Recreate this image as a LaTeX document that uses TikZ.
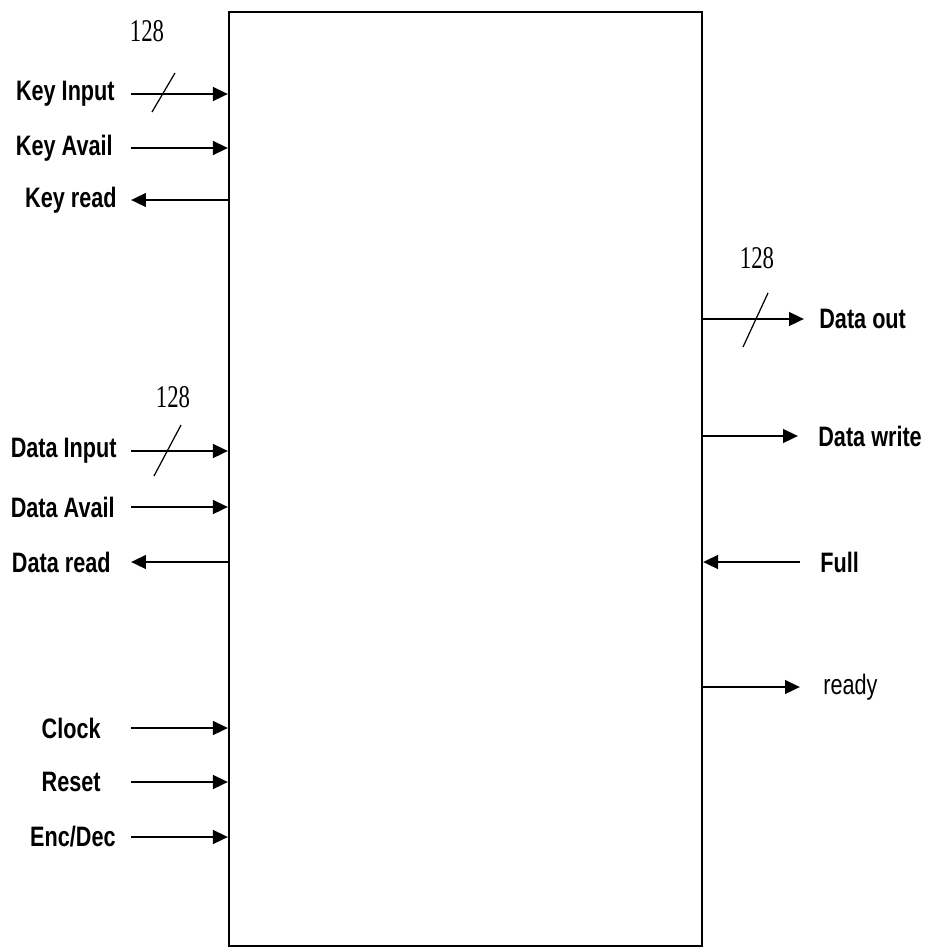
\documentclass[tikz,border=0pt]{standalone}
\usepackage{fontspec}
\setmainfont{Liberation Sans}
\newfontfamily\sigfont[FakeStretch=0.77]{Liberation Sans}
\newfontfamily\busfont[FakeStretch=0.72]{Liberation Serif}
\usetikzlibrary{arrows.meta}

\tikzset{
  sig/.style={font=\sigfont\bfseries\fontsize{16}{18}\selectfont, inner sep=0pt},
  sigl/.style={font=\sigfont\fontsize{16}{18}\selectfont, inner sep=0pt},
  width/.style={font=\busfont\fontsize{18}{20}\selectfont, inner sep=0pt},
  wire/.style={line width=1.6pt, -{Triangle[length=3mm,width=2.7mm]}},
  slash/.style={line width=0.7pt},
  core/.style={draw, line width=1.2pt, minimum width=9.46cm, minimum height=18.68cm, inner sep=0pt}
}

\begin{document}
\begin{tikzpicture}[x=0.02cm, y=-0.02cm]
   \useasboundingbox (0,0) rectangle (928,951);

   % the block
   \node[core] (core) at (465.5,479) {};

   % left side inputs / outputs
   \node[sig, anchor=east] (keyin)    at (115,94)  {Key Input};
   \node[sig, anchor=east] (keyav)    at (113,148) {Key Avail};
   \node[sig, anchor=east] (keyrd)    at (117,200) {Key read};
   \node[sig, anchor=east] (datain)   at (117,451) {Data Input};
   \node[sig, anchor=east] (dataav)   at (115,507) {Data Avail};
   \node[sig, anchor=east] (datard)   at (111,562) {Data read};
   \node[sig, anchor=east] (clock)    at (101,728) {Clock};
   \node[sig, anchor=east] (reset)    at (101,782) {Reset};
   \node[sig, anchor=east] (encdec)   at (116,837) {Enc/Dec};

   \coordinate (keyin-s)  at (131,94);
   \coordinate (keyav-s)  at (131,148);
   \coordinate (keyrd-s)  at (131,200);
   \coordinate (datain-s) at (131,451);
   \coordinate (dataav-s) at (131,507);
   \coordinate (datard-s) at (131,562);
   \coordinate (clock-s)  at (131,728);
   \coordinate (reset-s)  at (131,782);
   \coordinate (encdec-s) at (131,837);

   \draw[wire] (keyin-s) -- (keyin-s -| core.west);
   \draw[wire] (keyav-s) -- (keyav-s -| core.west);
   \draw[wire] (keyrd-s -| core.west) -- (keyrd-s);
   \draw[wire] (datain-s) -- (datain-s -| core.west);
   \draw[wire] (dataav-s) -- (dataav-s -| core.west);
   \draw[wire] (datard-s -| core.west) -- (datard-s);
   \draw[wire] (clock-s) -- (clock-s -| core.west);
   \draw[wire] (reset-s) -- (reset-s -| core.west);
   \draw[wire] (encdec-s) -- (encdec-s -| core.west);

   % right side
   \node[sig, anchor=west]  (dataout) at (819,319) {Data out};
   \node[sig, anchor=west]  (datawr)  at (818,436) {Data write};
   \node[sig, anchor=west]  (full)    at (820,562) {Full};
   \node[sigl, anchor=west] (ready)   at (823,687) {ready};

   \coordinate (dataout-e) at (804,319);
   \coordinate (datawr-e)  at (798,436);
   \coordinate (full-e)    at (800,562);
   \coordinate (ready-e)   at (800,687);

   \draw[wire] (dataout-e -| core.east) -- (dataout-e);
   \draw[wire] (datawr-e -| core.east) -- (datawr-e);
   \draw[wire] (full-e) -- (full-e -| core.east);
   \draw[wire] (ready-e -| core.east) -- (ready-e);

   % bus widths
   \draw[slash] (152,112) -- (175,73);
   \node[width] (w1) at (147,31) {128};
   \draw[slash] (154,476) -- (181,425);
   \node[width] (w2) at (173,397) {128};
   \draw[slash] (743,347) -- (768,293);
   \node[width] (w3) at (757,258) {128};
\end{tikzpicture}
\end{document}
